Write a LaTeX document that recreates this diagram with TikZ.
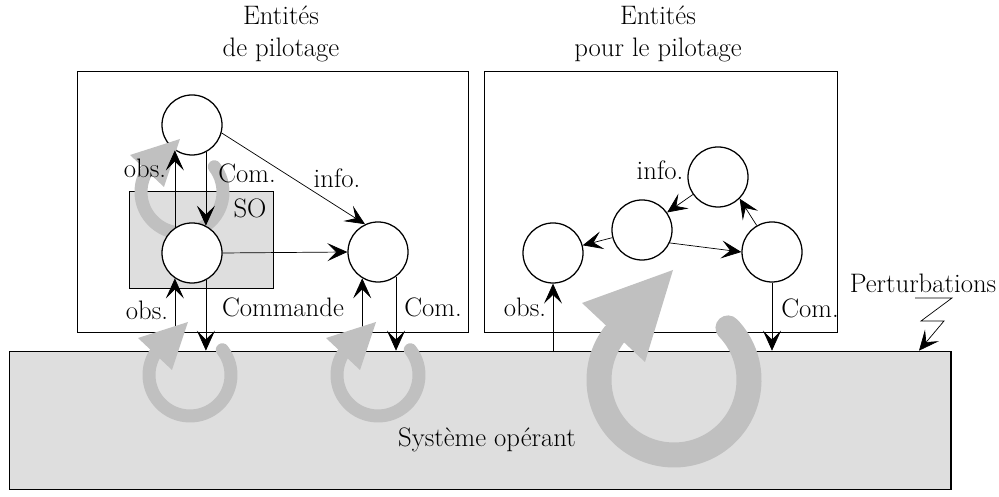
\documentclass[tikz,border=0pt]{standalone}
\usetikzlibrary{arrows.meta}

\definecolor{solgris}{RGB}{222,222,222}
\definecolor{bouclegris}{RGB}{192,192,192}

\tikzset{
  entite/.style={circle, draw, line width=0.9pt, fill=white, minimum size=1.5cm, inner sep=0pt},
  fleche/.style={line width=0.5pt, -{Stealth[length=0.5cm, width=0.45cm, inset=0.22cm]}},
  cadre/.style={draw, line width=0.9pt, inner sep=0pt, anchor=south west},
  etiq/.style={font=\fontsize{19}{23}\selectfont, inner sep=0pt},
}

% small feedback loop around a centre point
\newcommand{\boucle}[1]{%
  \draw[bouclegris, line width=0.325cm, line cap=round] (#1) ++(38:41) arc[start angle=38, end angle=-211, radius=41];
  \fill[bouclegris, shift={(#1)}] (-52,37) -- (-18,5) -- (-2,53) -- cycle;
}

\begin{document}
\begin{tikzpicture}[x=0.025cm, y=0.025cm]
    \useasboundingbox (0,0) rectangle (999,497);

    % Operating system and the two frames
    \node[cadre, fill=solgris, minimum width=23.525cm, minimum height=3.45cm] (sol) at (9,7) {};
    \node[cadre, minimum width=9.775cm, minimum height=6.525cm] (pilotage) at (77,164) {};
    \node[cadre, minimum width=8.825cm, minimum height=6.525cm] (pourpilotage) at (484,164) {};
    \node[cadre, fill=solgris, minimum width=3.6cm, minimum height=2.425cm] (sobox) at (129,208) {};

    % Titles
    \node[etiq, align=center] (titre1) at (281,463) {Entités\\de pilotage};
    \node[etiq, align=center] (titre2) at (658,463) {Entités\\pour le pilotage};

    % Entities of the left frame
    \node[entite] (haut) at (192,372) {};
    \boucle{182,305}
    \node[entite] (socercle) at (192,244) {};
    \node[entite] (info) at (378,245) {};

    % Entities of the right frame
    \node[entite] (ra) at (553,244) {};
    \node[entite] (rb) at (642,267) {};
    \node[entite] (rc) at (718,320) {};
    \node[entite] (rd) at (772,245) {};

    % Flows, left frame
    \draw[fleche] (socercle.124) -- (haut.236);
    \draw[fleche] (haut.-63) -- (socercle.63);
    \draw[fleche] (haut.-15) -- (info.115);
    \draw[fleche] (socercle.east) -- (info.west);
    \draw[fleche] (socercle.236 |- sol.north) -- (socercle.236);
    \draw[fleche] (socercle.-63) -- (socercle.-63 |- sol.north);
    \draw[fleche] (info.-121 |- sol.north) -- (info.-121);
    \draw[fleche] (info.-54) -- (info.-54 |- sol.north);

    % Flows, right frame
    \draw[fleche] (ra.south |- sol.north) -- (ra.south);
    \draw[fleche] (rd.south) -- (rd.south |- sol.north);
    \draw[fleche] (rc) -- (rb);
    \draw[fleche] (rb) -- (ra);
    \draw[fleche] (rb.-25) -- (rd.west);
    \draw[fleche] (rd.120) -- (rc.-45);

    % Loops in the operating system
    \boucle{190,122}
    \boucle{378,122}
    \draw[bouclegris, line width=0.625cm, line cap=round] (674,117) ++(44:75) arc[start angle=44, end angle=-218, radius=75];
    \fill[bouclegris, shift={(674,117)}] (-92,77) -- (-29,18) -- (-1,110) -- cycle;

    % Disturbances
    \node[etiq] (pert) at (923,214) {Perturbations};
    \coordinate (zig) at (915,199);
    \coordinate (impact) at (919,0 |- sol.north);
    \draw[fleche] (zig) -- (952,199) -- (921,176) -- (944,176) -- (impact);

    % Labels
    \node[etiq] (so) at (250,289) {SO};
    \node[etiq] (obs1) at (145,329) {obs.};
    \node[etiq] (com1) at (247,324) {Com.};
    \node[etiq] (info1) at (337,319) {info.};
    \node[etiq] (obs2) at (147,187) {obs.};
    \node[etiq] (cmd) at (283,190) {Commande};
    \node[etiq] (com2) at (433,190) {Com.};
    \node[etiq] (info2) at (660,327) {info.};
    \node[etiq] (obs3) at (525,190) {obs.};
    \node[etiq] (com3) at (810,189) {Com.};
    \node[etiq] (sysop) at (487,57) {Système opérant};
\end{tikzpicture}
\end{document}
